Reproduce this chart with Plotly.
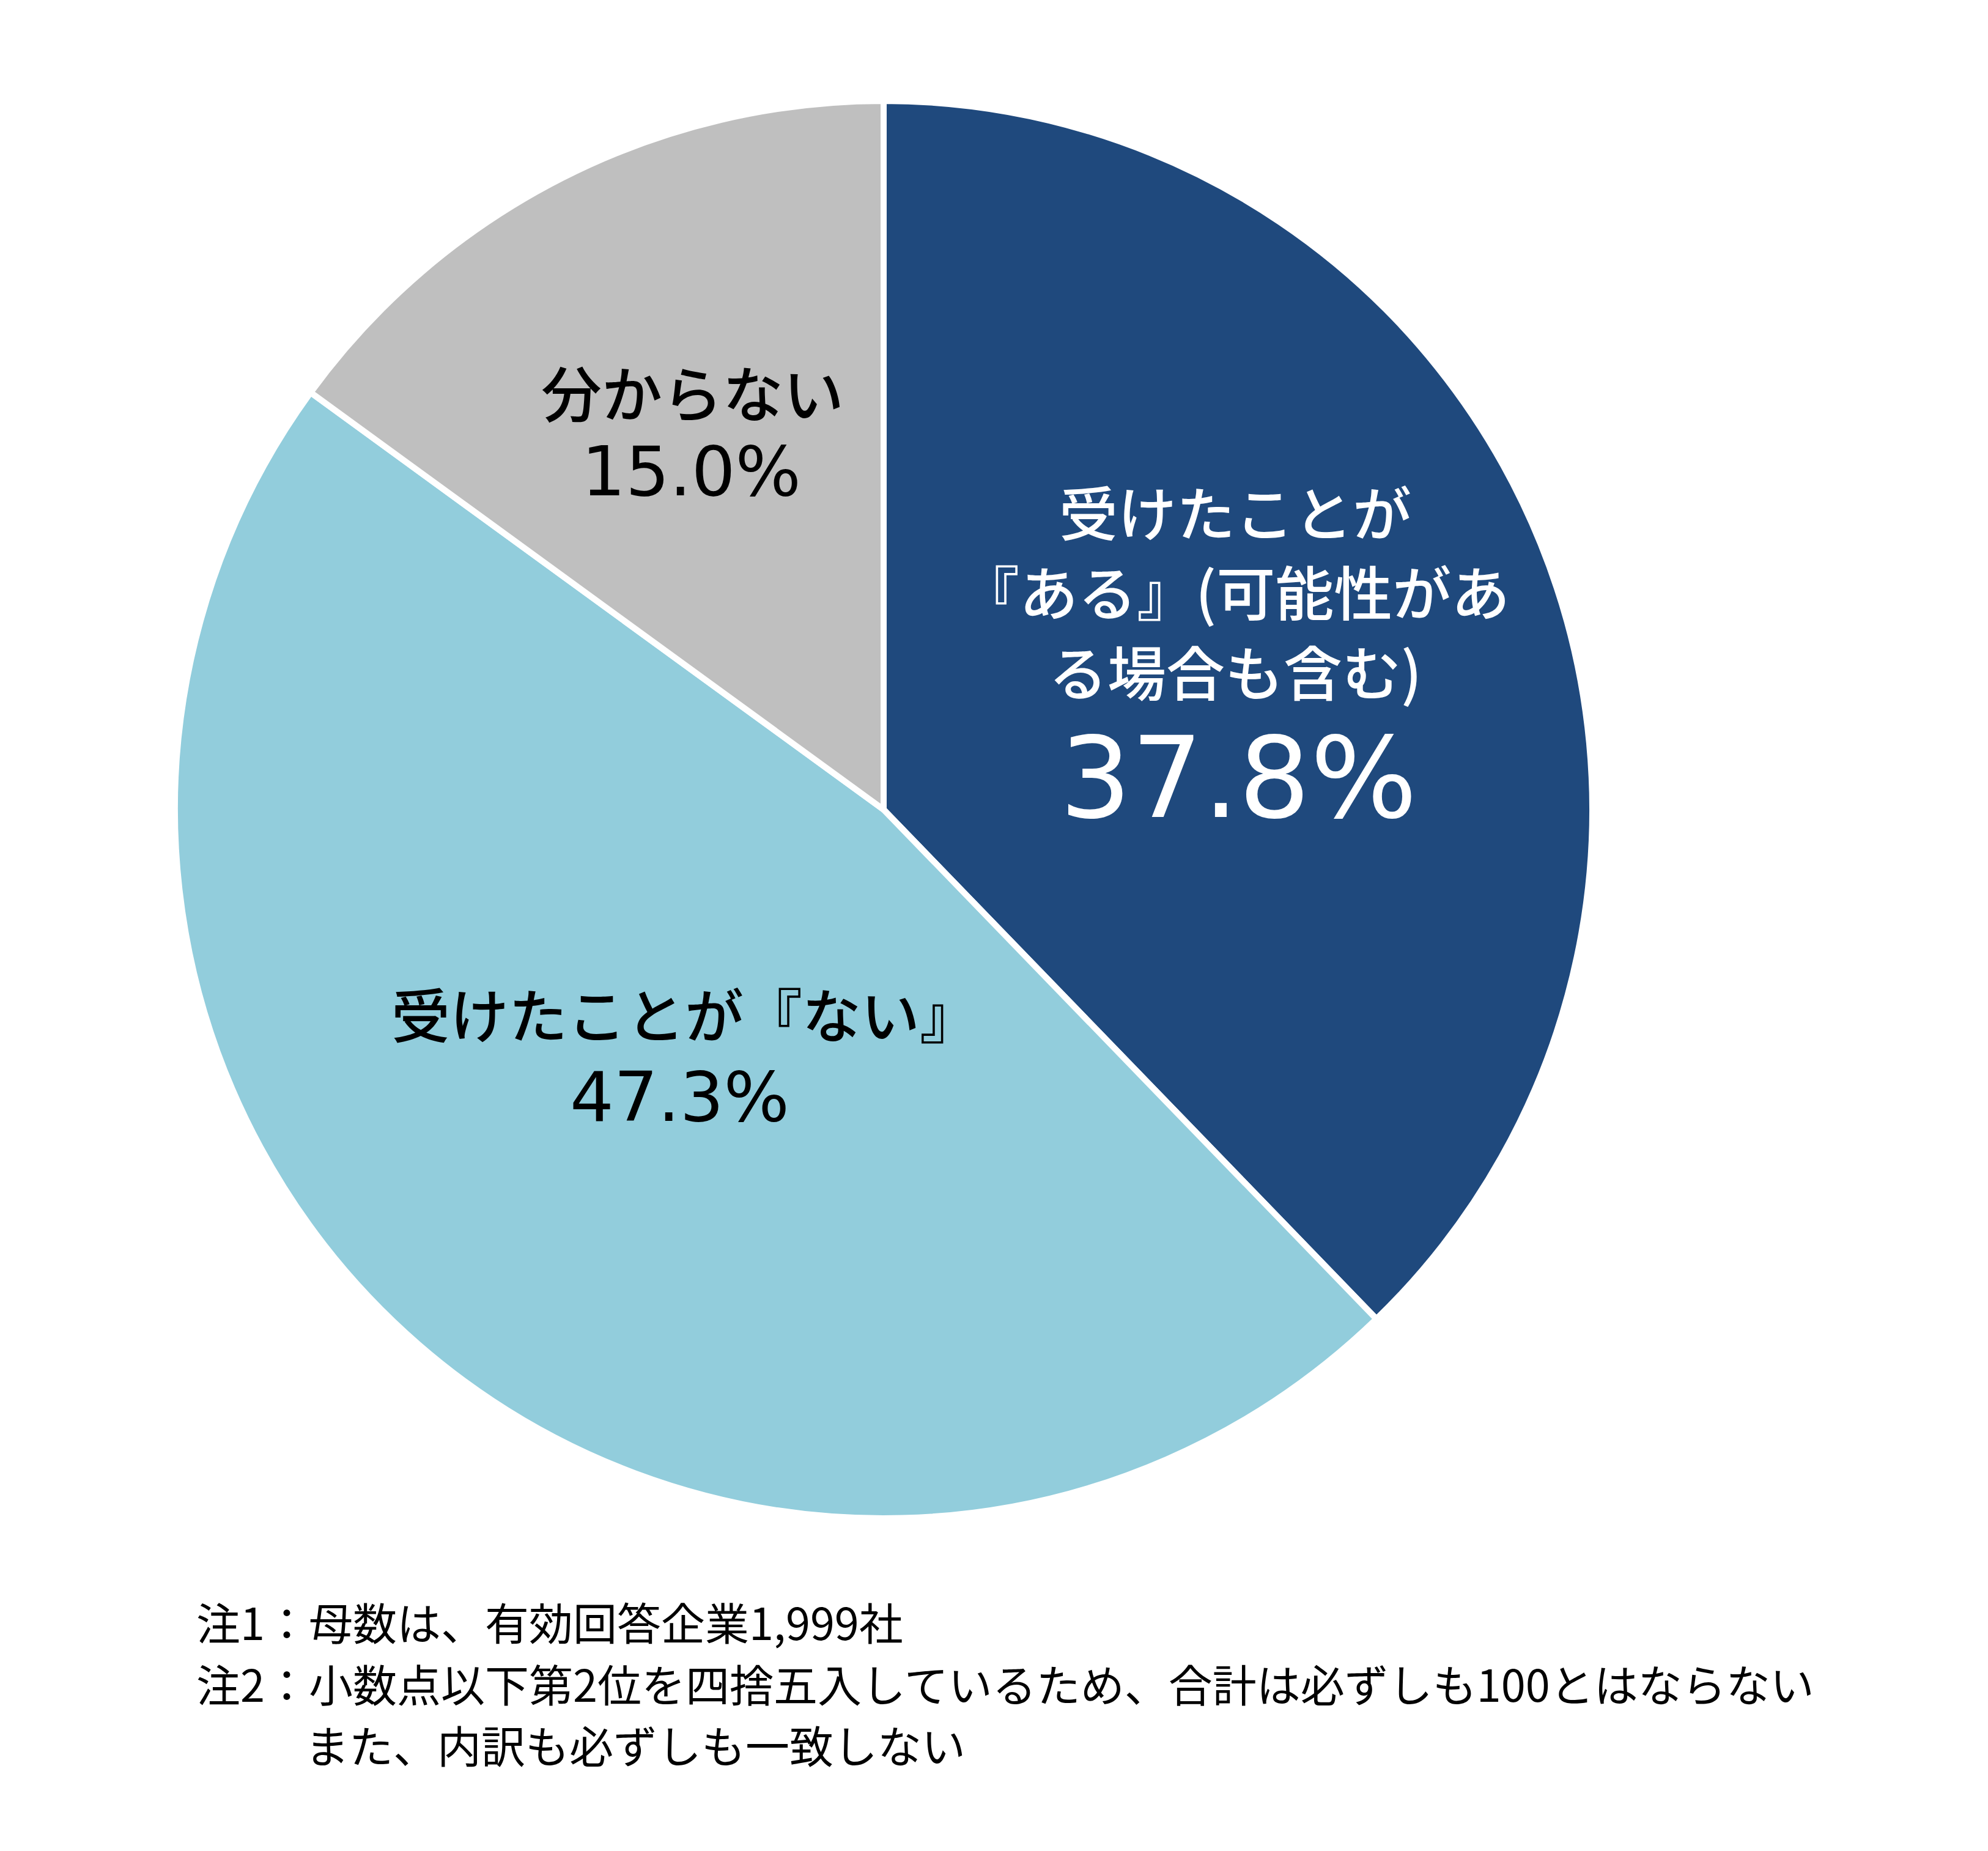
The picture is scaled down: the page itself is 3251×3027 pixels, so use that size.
import plotly.graph_objects as go

W, H = 3251, 3027

labels = ["受けたことが『ある』(可能性がある場合も含む)", "受けたことが『ない』", "分からない"]
values = [37.8, 47.3, 15.0]
colors = ["#1F497D", "#92CDDC", "#BFBFBF"]

label_lines = [
    ["受けたことが", "『ある』(可能性があ", "る場合も含む)"],
    ["受けたことが『ない』"],
    ["分からない"],
]
pct_text = ["37.8%", "47.3%", "15.0%"]
notes = [
    "注1：母数は、有効回答企業1,999社",
    "注2：小数点以下第2位を四捨五入しているため、合計は必ずしも100とはならない",
    "また、内訳も必ずしも一致しない",
]

cx, cy, r = 1437, 1316, 1159

fig = go.Figure(go.Pie(
    labels=labels, values=values, sort=False, direction="clockwise", rotation=0,
    marker=dict(colors=colors, line=dict(color="white", width=10)),
    textinfo="none", hoverinfo="label+percent", showlegend=False,
    domain=dict(x=[(cx - r) / W, (cx + r) / W], y=[1 - (cy + r) / H, 1 - (cy - r) / H]),
))

JP = "Noto Sans CJK JP"
NUM = "DejaVu Sans, Noto Sans CJK JP"

def px(x, y):
    return x / W, 1 - y / H

ann = []
def add(text, x, y, size, color, family=JP, weight=500, xanchor="center"):
    ax, ay = px(x, y)
    ann.append(dict(text=text, x=ax, y=ay, xref="paper", yref="paper", showarrow=False,
                    xanchor=xanchor, yanchor="middle",
                    font=dict(family=family, size=size, color=color, weight=weight)))

# dark blue slice label
for t, y in zip(label_lines[0], [826, 957, 1087]):
    add(t, 2012, y, 96, "white")
add(pct_text[0], 2017, 1264, 184, "white", family=NUM, weight=400)
# light blue slice label
add(label_lines[1][0], 1112, 1647, 96, "black")
add(pct_text[1], 1103, 1786, 113, "black", family=NUM, weight=400)
# gray slice label
add(label_lines[2][0], 1124, 631, 99, "black")
add(pct_text[2], 1122, 763, 113, "black", family=NUM, weight=400)

# notes
add(notes[0], 311, 2642, 72, "black", weight=400, xanchor="left")
add(notes[1], 311, 2743, 72, "black", weight=400, xanchor="left")
add(notes[2], 489, 2843, 72, "black", weight=400, xanchor="left")

fig.update_layout(width=W, height=H, margin=dict(l=0, r=0, t=0, b=0),
                  paper_bgcolor="white", plot_bgcolor="white", annotations=ann)
fig.write_html("out.html")
